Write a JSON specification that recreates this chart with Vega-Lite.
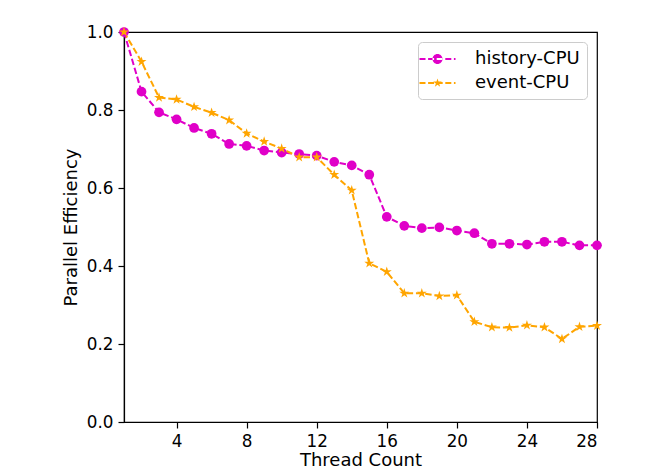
{
  "$schema": "https://vega.github.io/schema/vega-lite/v6.json",
  "autosize": "none",
  "width": 473,
  "height": 390,
  "padding": {"left": 124, "top": 32, "right": 58, "bottom": 49},
  "background": "white",
  "config": {
    "font": "DejaVu Sans",
    "view": {"stroke": "black", "strokeWidth": 1.2},
    "axis": {
      "grid": false,
      "domainColor": "black",
      "domainWidth": 1.2,
      "tickColor": "black",
      "tickWidth": 1.2,
      "tickSize": 6,
      "labelFontSize": 16.8,
      "labelColor": "black",
      "titleFontSize": 18,
      "titleFontWeight": "normal",
      "titleColor": "black",
      "labelPadding": 5
    }
  },
  "data": {
    "values": [
      {"t": 1, "s": "history-CPU", "v": 1.0},
      {"t": 2, "s": "history-CPU", "v": 0.847},
      {"t": 3, "s": "history-CPU", "v": 0.794},
      {"t": 4, "s": "history-CPU", "v": 0.776},
      {"t": 5, "s": "history-CPU", "v": 0.754},
      {"t": 6, "s": "history-CPU", "v": 0.739},
      {"t": 7, "s": "history-CPU", "v": 0.713},
      {"t": 8, "s": "history-CPU", "v": 0.708},
      {"t": 9, "s": "history-CPU", "v": 0.696},
      {"t": 10, "s": "history-CPU", "v": 0.691},
      {"t": 11, "s": "history-CPU", "v": 0.687},
      {"t": 12, "s": "history-CPU", "v": 0.683},
      {"t": 13, "s": "history-CPU", "v": 0.667},
      {"t": 14, "s": "history-CPU", "v": 0.658},
      {"t": 15, "s": "history-CPU", "v": 0.634},
      {"t": 16, "s": "history-CPU", "v": 0.526},
      {"t": 17, "s": "history-CPU", "v": 0.503},
      {"t": 18, "s": "history-CPU", "v": 0.497},
      {"t": 19, "s": "history-CPU", "v": 0.499},
      {"t": 20, "s": "history-CPU", "v": 0.491},
      {"t": 21, "s": "history-CPU", "v": 0.484},
      {"t": 22, "s": "history-CPU", "v": 0.457},
      {"t": 23, "s": "history-CPU", "v": 0.457},
      {"t": 24, "s": "history-CPU", "v": 0.455},
      {"t": 25, "s": "history-CPU", "v": 0.462},
      {"t": 26, "s": "history-CPU", "v": 0.462},
      {"t": 27, "s": "history-CPU", "v": 0.453},
      {"t": 28, "s": "history-CPU", "v": 0.453},
      {"t": 1, "s": "event-CPU", "v": 1.0},
      {"t": 2, "s": "event-CPU", "v": 0.924},
      {"t": 3, "s": "event-CPU", "v": 0.832},
      {"t": 4, "s": "event-CPU", "v": 0.827},
      {"t": 5, "s": "event-CPU", "v": 0.808},
      {"t": 6, "s": "event-CPU", "v": 0.793},
      {"t": 7, "s": "event-CPU", "v": 0.774},
      {"t": 8, "s": "event-CPU", "v": 0.740},
      {"t": 9, "s": "event-CPU", "v": 0.719},
      {"t": 10, "s": "event-CPU", "v": 0.701},
      {"t": 11, "s": "event-CPU", "v": 0.679},
      {"t": 12, "s": "event-CPU", "v": 0.679},
      {"t": 13, "s": "event-CPU", "v": 0.634},
      {"t": 14, "s": "event-CPU", "v": 0.594},
      {"t": 15, "s": "event-CPU", "v": 0.407},
      {"t": 16, "s": "event-CPU", "v": 0.385},
      {"t": 17, "s": "event-CPU", "v": 0.330},
      {"t": 18, "s": "event-CPU", "v": 0.330},
      {"t": 19, "s": "event-CPU", "v": 0.323},
      {"t": 20, "s": "event-CPU", "v": 0.325},
      {"t": 21, "s": "event-CPU", "v": 0.257},
      {"t": 22, "s": "event-CPU", "v": 0.243},
      {"t": 23, "s": "event-CPU", "v": 0.242},
      {"t": 24, "s": "event-CPU", "v": 0.248},
      {"t": 25, "s": "event-CPU", "v": 0.243},
      {"t": 26, "s": "event-CPU", "v": 0.213},
      {"t": 27, "s": "event-CPU", "v": 0.244},
      {"t": 28, "s": "event-CPU", "v": 0.247}
    ]
  },
  "encoding": {
    "x": {
      "field": "t", "type": "quantitative",
      "scale": {"domain": [1, 28], "nice": false, "zero": false},
      "axis": {"values": [4, 8, 12, 16, 20, 24, 28], "title": "Thread Count", "titlePadding": 2}
    },
    "y": {
      "field": "v", "type": "quantitative",
      "scale": {"domain": [0, 1], "nice": false},
      "axis": {"values": [0, 0.2, 0.4, 0.6, 0.8, 1.0], "format": ".1f", "title": "Parallel Efficiency", "titlePadding": 6}
    },
    "color": {
      "field": "s", "type": "nominal",
      "scale": {"domain": ["history-CPU", "event-CPU"], "range": ["#e000c8", "#ffa500"]},
      "legend": {
        "title": null,
        "orient": "top-right",
        "offset": 10,
        "padding": 7,
        "strokeColor": "#cccccc",
        "fillColor": "white",
        "cornerRadius": 4,
        "labelFontSize": 18,
        "labelColor": "black",
        "symbolSize": 400,
        "symbolStrokeWidth": 0,
        "symbolOpacity": 1,
        "rowPadding": 5,
        "symbolOffset": 6,
        "labelOffset": 24,
        "encode": {
          "symbols": {
            "update": {
              "shape": {"signal": "datum.value === 'history-CPU' ? 'M-2.15,-0.1H-1.55V0.1H-2.15Z M-1.29,-0.1H-0.69V0.1H-1.29Z M-0.43,-0.1H0.17V0.1H-0.43Z M0.43,-0.1H1.03V0.1H0.43Z M1.29,-0.1H1.45V0.1H1.29Z M-0.85,0A0.5,0.5 0 1,0 0.15,0A0.5,0.5 0 1,0 -0.85,0Z' : 'M-2.15,-0.1H-1.55V0.1H-2.15Z M-1.29,-0.1H-0.69V0.1H-1.29Z M-0.43,-0.1H0.17V0.1H-0.43Z M0.43,-0.1H1.03V0.1H0.43Z M1.29,-0.1H1.45V0.1H1.29Z M-0.35,-0.45L-0.249,-0.139L0.078,-0.139L-0.187,0.053L-0.085,0.364L-0.35,0.172L-0.615,0.364L-0.513,0.053L-0.778,-0.139L-0.451,-0.139Z'"},
              "fill": {"signal": "datum.value === 'history-CPU' ? '#e000c8' : '#ffa500'"},
              "fillOpacity": {"value": 1},
              "strokeWidth": {"value": 0}
            }
          }
        }
      }
    }
  },
  "layer": [
    {
      "mark": {"type": "line", "strokeWidth": 2, "strokeDash": [6.5, 2.8]},
      "encoding": {"detail": {"field": "s"}}
    },
    {
      "transform": [{"filter": "datum.s === 'history-CPU'"}],
      "mark": {"type": "point", "filled": true, "opacity": 1, "size": 95, "shape": "circle"}
    },
    {
      "transform": [{"filter": "datum.s === 'event-CPU'"}],
      "mark": {"type": "point", "filled": true, "opacity": 1, "size": 110, "shape": "M0,-1L0.2245,-0.309L0.951,-0.309L0.363,0.118L0.588,0.809L0,0.382L-0.588,0.809L-0.363,0.118L-0.951,-0.309L-0.2245,-0.309Z"}
    }
  ]
}
